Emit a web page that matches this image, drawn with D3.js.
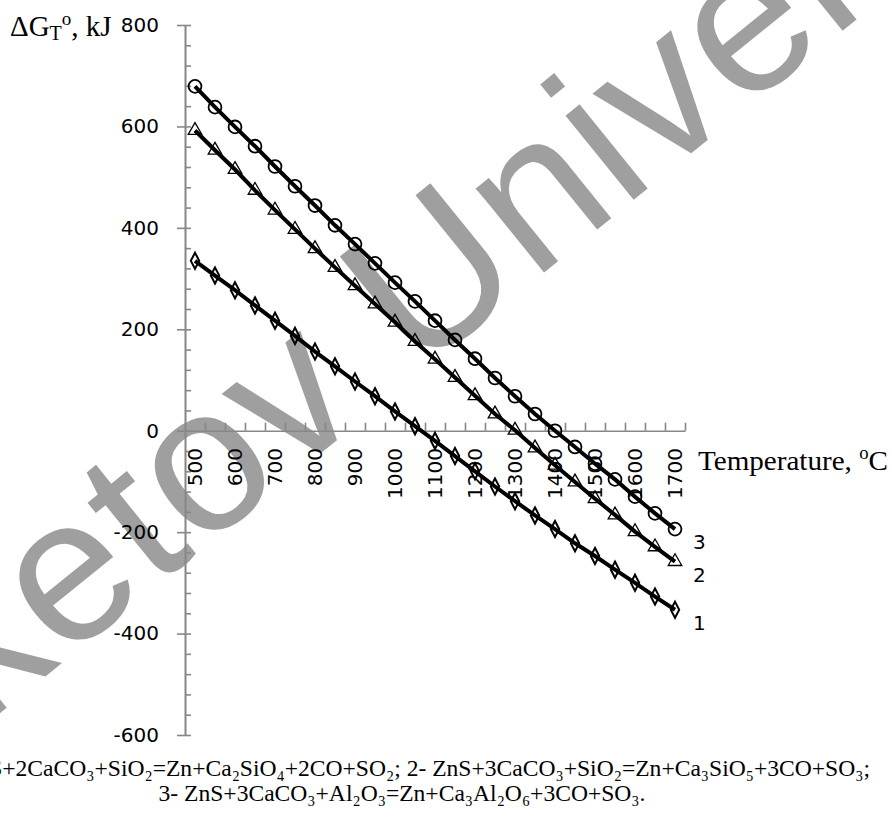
<!DOCTYPE html>
<html>
<head>
<meta charset="utf-8">
<script src="https://cdn.jsdelivr.net/npm/d3@7"></script>
<style>
  html, body { margin: 0; padding: 0; background: #fff; }
  svg { display: block; }
</style>
</head>
<body>
<svg id="chart" width="892" height="817"></svg>
<script>
// temperatures, one point every 50 degrees
const temps = [500, 550, 600, 650, 700, 750, 800, 850, 900, 950, 1000, 1050, 1100,
  1150, 1200, 1250, 1300, 1350, 1400, 1450, 1500, 1550, 1600, 1650, 1700];

// dG values, kJ
const series1 = [335, 306, 277, 247, 217, 187, 156, 127, 97, 68, 38, 9, -20,
  -50, -80, -110, -139, -167, -194, -222, -247, -274, -300, -327, -353];
const series2 = [592, 553, 515, 474, 435, 397, 359, 322, 286, 250, 214, 176, 141,
  105, 69, 33, 1, -34, -68, -101, -134, -166, -199, -229, -258];
const series3 = [679, 638, 599, 561, 521, 482, 444, 405, 368, 330, 292, 255, 217,
  179, 142, 104, 68, 33, 0, -32, -65, -96, -130, -163, -194];

const seriesNames = ["1", "2", "3"];
const yTicks = [-600, -400, -200, 0, 200, 400, 600, 800];
const xTickLabels = [500, 600, 700, 800, 900, 1000, 1100, 1200, 1300, 1400, 1500, 1600, 1700];

const captionLine1 = "1- ZnS+2CaCO₃+SiO₂=Zn+Ca₂SiO₄+2CO+SO₂;  2- ZnS+3CaCO₃+SiO₂=Zn+Ca₃SiO₅+3CO+SO₃;";
const captionLine2 = "3- ZnS+3CaCO₃+Al₂O₃=Zn+Ca₃Al₂O₆+3CO+SO₃.";

const axisColor = "#878787";
const sansFont = "'DejaVu Sans', sans-serif";
const serifFont = "'Liberation Serif', 'Times New Roman', serif";

const svg = d3.select("#chart");

// watermark behind everything
svg.append("text")
  .attr("transform", "translate(-216,888) rotate(-39)")
  .attr("font-family", "'Liberation Sans', Arial, sans-serif")
  .attr("font-size", 205)
  .attr("letter-spacing", 2)
  .attr("fill", "#9f9f9f")
  .text("Buketov University");

const x = d3.scaleBand().domain(temps).range([185, 685]).padding(0);
const xc = t => x(t) + x.bandwidth() / 2;
const xEdge = d3.scaleLinear().domain([0, temps.length]).range([185, 685]);
const y = d3.scaleLinear().domain([-600, 800]).range([735, 25]);

// y axis: major ticks cross the line, minor ticks every 40 on the right
const yAxisG = svg.append("g").attr("transform", "translate(185,0)");
yAxisG.call(d3.axisLeft(y).tickValues(yTicks).tickSize(8).tickPadding(18).tickSizeOuter(0));
svg.append("g").attr("transform", "translate(185,0)")
  .call(d3.axisRight(y).tickValues(d3.range(-600, 801, 40)).tickSize(6).tickSizeOuter(0).tickFormat(""));

// x axis sits at y = 0
const x0 = y(0);
svg.append("g").attr("transform", `translate(0,${x0})`)
  .call(d3.axisBottom(xEdge).tickValues(d3.range(1, temps.length + 1)).tickSize(-8).tickSizeOuter(0).tickFormat(""));

svg.selectAll(".domain").attr("stroke", axisColor).attr("stroke-width", 1.6);
svg.selectAll(".tick line").attr("stroke", axisColor).attr("stroke-width", 1.6);
yAxisG.selectAll(".tick text")
  .attr("font-family", sansFont).attr("font-size", 20).attr("fill", "#000")
  .text(d => d < 0 ? "-" + Math.abs(d) : d);

svg.append("g").selectAll("text")
  .data(xTickLabels)
  .join("text")
  .attr("transform", d => `translate(${xc(d)},448) rotate(-90)`)
  .attr("text-anchor", "end")
  .attr("dy", "0.36em")
  .attr("font-family", sansFont)
  .attr("font-size", 20)
  .text(d => d);

// series
const data = [series1, series2, series3].map((vals, i) => ({
  name: seriesNames[i],
  points: temps.map((t, j) => ({ t, v: vals[j] }))
}));

const line = d3.line().x(d => xc(d.t)).y(d => y(d.v));
svg.append("g").selectAll("path")
  .data(data)
  .join("path")
  .attr("d", d => line(d.points))
  .attr("fill", "none")
  .attr("stroke", "#000")
  .attr("stroke-width", 4);

const markerSymbols = [d3.symbolDiamond, d3.symbolTriangle, d3.symbolCircle];
const markerSizes = [75, 80, 130];
const markerStroke = [2.2, 1.3, 1.8];
data.forEach((s, i) => {
  const sym = d3.symbol().type(markerSymbols[i]).size(markerSizes[i]);
  svg.append("g").selectAll("path")
    .data(s.points)
    .join("path")
    .attr("transform", d => `translate(${xc(d.t)},${y(d.v)})${i === 0 ? " scale(0.9,1)" : ""}`)
    .attr("d", sym)
    .attr("fill", "none")
    .attr("stroke", "#000")
    .attr("stroke-width", markerStroke[i]);
});

// series numbers at the right end
svg.append("g").selectAll("text")
  .data(data)
  .join("text")
  .attr("x", 693)
  .attr("y", d => y(d.points[d.points.length - 1].v) + 20)
  .attr("font-family", sansFont)
  .attr("font-size", 20)
  .text(d => d.name);

// axis titles
const yTitle = svg.append("text")
  .attr("x", 10).attr("y", 36)
  .attr("font-family", serifFont).attr("font-size", 29);
yTitle.append("tspan").text("ΔG");
yTitle.append("tspan").attr("font-size", 20).attr("dy", 4).text("T");
yTitle.append("tspan").attr("font-size", 19).attr("dy", -15).text("o");
yTitle.append("tspan").attr("dy", 11).text(", kJ");

const xTitle = svg.append("text")
  .attr("x", 698).attr("y", 470)
  .attr("font-family", serifFont).attr("font-size", 28);
xTitle.append("tspan").text("Temperature, ");
xTitle.append("tspan").attr("font-size", 18).attr("dy", -11).text("o");
xTitle.append("tspan").attr("dy", 11).text("C");

// squeeze a text horizontally around an anchor x
function squeeze(sel, k, ax) {
  sel.attr("transform", `translate(${ax},0) scale(${k},1) translate(${-ax},0)`);
}
squeeze(xTitle, 190 / xTitle.node().getComputedTextLength(), 698);

const cap1 = svg.append("text")
  .attr("x", 870).attr("y", 776)
  .attr("text-anchor", "end")
  .attr("font-family", serifFont).attr("font-size", 24)
  .text(captionLine1);
const cap2 = svg.append("text")
  .attr("x", 402).attr("y", 801)
  .attr("text-anchor", "middle")
  .attr("font-family", serifFont).attr("font-size", 24)
  .text(captionLine2);
const kCap = 933 / cap1.node().getComputedTextLength();
squeeze(cap1, kCap, 870);
squeeze(cap2, kCap, 402);
</script>
</body>
</html>
